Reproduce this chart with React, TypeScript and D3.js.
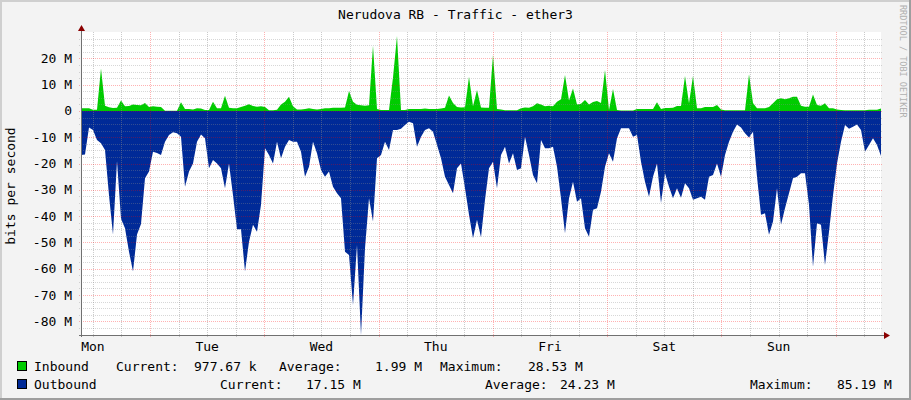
import { useEffect, useRef } from 'react'
import * as d3 from 'd3'

const title = 'Nerudova RB - Traffic - ether3'
const yAxisTitle = 'bits per second'
const credit = 'RRDTOOL / TOBI OETIKER'
const dayLabels = ['Mon', 'Tue', 'Wed', 'Thu', 'Fri', 'Sat', 'Sun']
const yTicks = [20, 10, 0, -10, -20, -30, -40, -50, -60, -70, -80]

// samples start Mon 09:30, one every 0.84 h (hours counted from Mon 00:00)
const startHour = 9.5
const stepHours = 0.84

// Mbit/s
const inbound = [
  1.0, 1.0, 1.0, 0.5, 0.5, 16.2, 2.0, 1.4, 1.1, 1.2,
  4.0, 1.8, 1.9, 2.5, 2.3, 2.2, 3.0, 1.5, 1.8, 1.6,
  1.5, 0.1, 0.1, 0.1, 0.1, 3.3, 0.8, 0.8, 0.6, 1.0,
  0.9, 0.4, 0.4, 3.5, 1.0, 1.0, 5.8, 1.2, 1.0, 1.0,
  1.5, 2.0, 2.6, 1.9, 1.6, 1.8, 1.5, 0.3, 0.3, 0.5,
  2.5, 3.5, 5.4, 1.8, 0.6, 0.6, 0.8, 1.0, 0.8, 0.6,
  0.8, 1.0, 1.0, 1.2, 1.2, 1.2, 1.3, 7.6, 3.5, 2.4,
  2.2, 2.0, 2.2, 24.8, 0.8, 0.4, 0.4, 0.4, 12.7, 28.53,
  0.4, 0.4, 0.8, 0.8, 0.8, 0.8, 0.9, 0.8, 0.8, 0.8,
  0.9, 1.2, 5.9, 3.0, 1.5, 1.3, 1.4, 13.0, 1.8, 8.0,
  1.3, 1.2, 1.2, 21.3, 0.8, 0.6, 0.3, 0.3, 0.3, 0.3,
  1.0, 1.3, 1.2, 1.8, 2.9, 2.5, 1.8, 2.0, 1.8, 3.5,
  4.5, 13.7, 4.0, 8.6, 2.5, 2.8, 4.2, 2.5, 3.4, 3.8,
  3.0, 15.6, 0.4, 8.4, 0.4, 0.2, 0.2, 0.2, 0.2, 0.8,
  0.8, 0.8, 0.8, 0.8, 3.3, 0.8, 1.1, 1.1, 1.2, 1.9,
  1.9, 13.3, 2.9, 13.3, 1.0, 1.0, 1.5, 1.5, 1.5, 2.3,
  0.6, 0.3, 0.3, 0.3, 0.3, 0.3, 0.3, 14.0, 3.0, 1.0,
  1.0, 1.0, 1.5, 2.9, 4.5, 4.8, 4.5, 4.8, 5.4, 5.4,
  2.0, 1.6, 1.6, 6.3, 2.3, 2.0, 2.9, 1.0, 1.0, 0.6,
  0.4, 0.3, 0.3, 0.3, 0.3, 0.3, 0.3, 0.5, 0.5, 0.5,
  0.98,
]

// Mbit/s, drawn below zero
const outbound = [
  16.7, 16.5, 6.3, 7.2, 11, 12.3, 14.8, 32, 47, 19,
  41, 44.6, 53.5, 61, 47, 43, 25.6, 23, 15.5, 16,
  16.7, 11.7, 9.1, 8.1, 8.5, 9.8, 28.8, 23, 20, 11.7,
  8.9, 10.4, 21.8, 18.6, 20, 21.8, 29.4, 20, 32, 45,
  45, 61, 49.7, 43.3, 45.9, 35.7, 14.2, 16.7, 20, 11.7,
  18, 13.6, 11, 11.7, 11.7, 15.5, 25, 21.2, 11.7, 16.1,
  22.4, 25, 23, 28.8, 31.3, 33.2, 53.5, 54.8, 73.8, 51,
  85.19, 52.2, 33.2, 42, 18, 16.7, 11.7, 14.8, 7.2, 7.2,
  6.8, 5.3, 4.1, 4.7, 13.6, 9.8, 7.2, 6.6, 7.9, 12.9,
  18, 25, 28.1, 31.3, 21.8, 20, 29.4, 39.5, 48.4, 41.4,
  48, 33.8, 21.8, 19.3, 29.4, 16.7, 13.6, 20, 16.1, 22.4,
  21.8, 9.8, 16.7, 24.3, 27.5, 11, 14.2, 14.2, 13.6, 21.2,
  33.2, 46.5, 33.2, 26.9, 34.5, 33.2, 44.6, 47.8, 37.6, 37,
  30.7, 21.2, 16.1, 19.3, 10.4, 6.6, 6.6, 6.6, 9.8, 9.1,
  19.3, 26.9, 32.6, 25, 20, 35, 23.7, 28.8, 33.2, 29.4,
  33, 27.5, 29.4, 33.8, 33.2, 32.6, 33.8, 25, 24.3, 20,
  25, 16.7, 11.7, 7.9, 5.1, 6.3, 8.5, 10.1, 7.9, 25,
  39.5, 38.9, 47.1, 42, 29.4, 43.3, 37, 31.3, 25.6, 25,
  23.7, 23.7, 35.7, 59.2, 42.7, 43.3, 58.6, 45.9, 32, 20,
  11.7, 5.3, 6.8, 6, 5.1, 7.2, 15.5, 12.9, 10.4, 12.9,
  17.15,
]

const inboundLegend = ['Inbound', 'Current:', '977.67 k', 'Average:', '1.99 M', 'Maximum:', '28.53 M']
const outboundLegend = ['Outbound', 'Current:', '17.15 M', 'Average:', '24.23 M', 'Maximum:', '85.19 M']

export default function App() {
  const svgRef = useRef<SVGSVGElement>(null)
  const width = 911
  const height = 400

  useEffect(() => {
    if (!svgRef.current) return
    const svg = d3.select(svgRef.current)
    svg.selectAll('*').remove()

    const font = '"DejaVu Sans Mono", monospace'
    const plot = { left: 81, right: 881, top: 32, bottom: 335 }
    const inColor = '#00CC00'
    const outColor = '#002A97'

    const x = d3.scaleLinear()
      .domain([startHour, startHour + stepHours * (inbound.length - 1)])
      .range([plot.left, plot.right])
    const y = d3.scaleLinear()
      .domain([-85.19, 30.04])
      .range([plot.bottom, plot.top])

    // canvas + frame shading
    svg.append('rect').attr('width', width).attr('height', height).attr('fill', '#F3F3F3')
    svg.append('rect').attr('width', width).attr('height', 2).attr('fill', '#CFCFCF')
    svg.append('rect').attr('width', 2).attr('height', height).attr('fill', '#CFCFCF')
    svg.append('rect').attr('x', width - 2).attr('width', 2).attr('height', height).attr('fill', '#9E9E9E')
    svg.append('rect').attr('y', height - 2).attr('width', width).attr('height', 2).attr('fill', '#9E9E9E')

    svg.append('rect')
      .attr('x', plot.left).attr('y', plot.top)
      .attr('width', plot.right - plot.left).attr('height', plot.bottom - plot.top)
      .attr('fill', '#FFFFFF')

    svg.append('defs').append('clipPath').attr('id', 'plot-clip')
      .append('rect')
      .attr('x', plot.left).attr('y', plot.top)
      .attr('width', plot.right - plot.left).attr('height', plot.bottom - plot.top)

    const hourAt = (i: number) => startHour + i * stepHours

    const inArea = d3.area<number>()
      .x((_, i) => x(hourAt(i)))
      .y0(y(0))
      .y1(d => y(d))
    const outArea = d3.area<number>()
      .x((_, i) => x(hourAt(i)))
      .y0(y(0))
      .y1(d => y(-d))

    const areas = svg.append('g').attr('clip-path', 'url(#plot-clip)')
    areas.append('path').attr('d', outArea(outbound)).attr('fill', outColor)
    areas.append('path').attr('d', inArea(inbound)).attr('fill', inColor)

    // grid (drawn over the data like rrdtool)
    const grid = svg.append('g').attr('shape-rendering', 'crispEdges')
    const [h0, h1] = x.domain()
    const minorV = d3.range(Math.ceil(h0 / 6) * 6, h1, 6).filter(h => h % 24 !== 0)
    const majorV = d3.range(Math.ceil(h0 / 24) * 24, h1, 24)
    const minorH = d3.range(-85, 30, 2.5).filter(v => v % 10 !== 0 && v > -85)
    const majorH = d3.range(-80, 30, 10)

    grid.selectAll('.minor-h').data(minorH).enter().append('line')
      .attr('x1', plot.left - 2).attr('x2', plot.right + 2)
      .attr('y1', d => Math.round(y(d)) + 0.5).attr('y2', d => Math.round(y(d)) + 0.5)
      .attr('stroke', 'rgba(140,140,140,0.35)').attr('stroke-dasharray', '1,1')
    grid.selectAll('.minor-v').data(minorV).enter().append('line')
      .attr('x1', d => Math.round(x(d)) + 0.5).attr('x2', d => Math.round(x(d)) + 0.5)
      .attr('y1', plot.top).attr('y2', plot.bottom + 2)
      .attr('stroke', 'rgba(140,140,140,0.45)').attr('stroke-dasharray', '1,1')
    grid.selectAll('.major-h').data(majorH).enter().append('line')
      .attr('x1', plot.left - 2).attr('x2', plot.right + 2)
      .attr('y1', d => Math.round(y(d)) + 0.5).attr('y2', d => Math.round(y(d)) + 0.5)
      .attr('stroke', 'rgba(255,0,0,0.3)').attr('stroke-dasharray', '1,1')
    grid.selectAll('.major-v').data(majorV).enter().append('line')
      .attr('x1', d => Math.round(x(d)) + 0.5).attr('x2', d => Math.round(x(d)) + 0.5)
      .attr('y1', plot.top).attr('y2', plot.bottom + 2)
      .attr('stroke', 'rgba(255,0,0,0.3)').attr('stroke-dasharray', '1,1')

    // axes + arrows
    const axisColor = '#707070'
    const arrowColor = '#8B0000'
    svg.append('line')
      .attr('x1', plot.left + 0.5).attr('x2', plot.left + 0.5)
      .attr('y1', plot.bottom + 2).attr('y2', plot.top - 4)
      .attr('stroke', axisColor)
    svg.append('line')
      .attr('x1', plot.left - 2).attr('x2', plot.right + 4)
      .attr('y1', plot.bottom + 0.5).attr('y2', plot.bottom + 0.5)
      .attr('stroke', axisColor)
    svg.append('path')
      .attr('d', `M${plot.left - 3},${plot.top - 1} L${plot.left + 0.5},${plot.top - 7} L${plot.left + 4},${plot.top - 1} Z`)
      .attr('fill', arrowColor)
    svg.append('path')
      .attr('d', `M${plot.right + 3},${plot.bottom - 3} L${plot.right + 9},${plot.bottom + 0.5} L${plot.right + 3},${plot.bottom + 4} Z`)
      .attr('fill', arrowColor)

    // y labels
    svg.selectAll('.ytick').data(yTicks).enter().append('text')
      .attr('x', 72).attr('y', d => y(d) + 4.5)
      .attr('text-anchor', 'end')
      .style('font-family', font).style('font-size', '13px').style('fill', '#000')
      .text(d => (d === 0 ? '0' : `${d} M`))

    // day labels at noon
    svg.selectAll('.day').data(dayLabels).enter().append('text')
      .attr('x', (_, i) => x(i * 24 + 12))
      .attr('y', 351)
      .attr('text-anchor', 'middle')
      .style('font-family', font).style('font-size', '13px').style('fill', '#000')
      .text(d => d)

    // title
    svg.append('text')
      .attr('x', width / 2).attr('y', 19)
      .attr('text-anchor', 'middle')
      .style('font-family', font).style('font-size', '13px').style('fill', '#000')
      .text(title)

    svg.append('text')
      .attr('transform', `translate(15,186) rotate(-90)`)
      .attr('text-anchor', 'middle')
      .style('font-family', font).style('font-size', '13px').style('fill', '#000')
      .text(yAxisTitle)

    svg.append('text')
      .attr('transform', `translate(900,5) rotate(90)`)
      .style('font-family', font).style('font-size', '8.5px').style('fill', '#B0B0B0')
      .text(credit)

    // legend
    const rows = [
      { items: inboundLegend, color: inColor, y: 371, xs: [34, 116, 194, 279, 375, 440, 528] },
      { items: outboundLegend, color: outColor, y: 389, xs: [34, 220, 306, 485, 560, 750, 837] },
    ]
    rows.forEach(row => {
      svg.append('rect')
        .attr('x', 17.5).attr('y', row.y - 9.5)
        .attr('width', 9).attr('height', 9)
        .attr('fill', row.color).attr('stroke', '#000')
      row.items.forEach((t, i) => {
        svg.append('text')
          .attr('x', row.xs[i]).attr('y', row.y)
          .style('font-family', font).style('font-size', '13px').style('fill', '#000')
          .style('white-space', 'pre')
          .text(t)
      })
    })
  }, [])

  return (
    <svg
      ref={svgRef}
      width={width}
      height={height}
      style={{ position: 'absolute', left: 0, top: 0, display: 'block' }}
    />
  )
}
